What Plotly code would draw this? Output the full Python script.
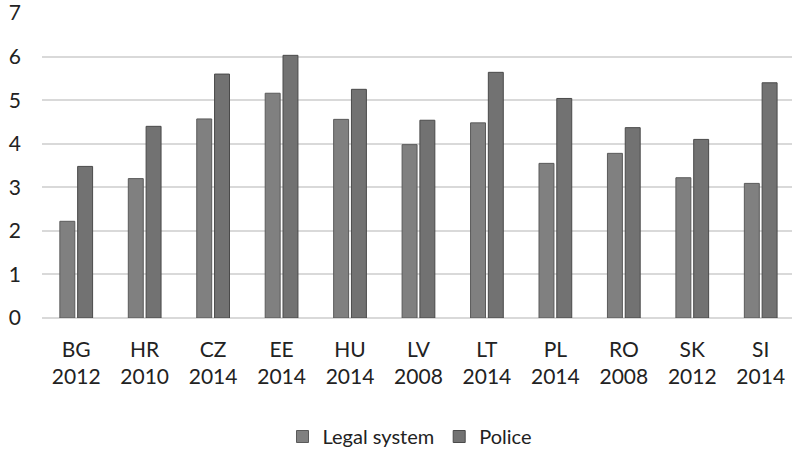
import plotly.graph_objects as go

countries = ["BG", "HR", "CZ", "EE", "HU", "LV", "LT", "PL", "RO", "SK", "SI"]
years = ["2012", "2010", "2014", "2014", "2014", "2008", "2014", "2014", "2008", "2012", "2014"]
legal_system = [2.22, 3.20, 4.57, 5.16, 4.56, 3.98, 4.48, 3.55, 3.78, 3.22, 3.09]
police = [3.48, 4.40, 5.60, 6.03, 5.25, 4.54, 5.64, 5.04, 4.37, 4.10, 5.40]
y_ticks = [0, 1, 2, 3, 4, 5, 6, 7]

labels = [f"{c}<br>{y}" for c, y in zip(countries, years)]
idx = list(range(len(countries)))

fig = go.Figure()
fig.add_trace(go.Bar(
    x=idx, y=legal_system, name="Legal system",
    marker=dict(color="#808080", line=dict(color="#5a5a5a", width=1)),
))
fig.add_trace(go.Bar(
    x=idx, y=police, name="Police",
    marker=dict(color="#727272", line=dict(color="#4a4a4a", width=1)),
))

font_family = "Lato, 'Open Sans', sans-serif"
fig.update_layout(
    width=792, height=450,
    paper_bgcolor="white", plot_bgcolor="white",
    margin=dict(l=42, r=0, t=13, b=132),
    barmode="group", bargap=0.48, bargroupgap=0.16,
    font=dict(family=font_family, size=20, color="#222222"),
    showlegend=True,
    legend=dict(orientation="h", x=0.49, xanchor="center",
                yref="container", y=0.03, yanchor="middle",
                font=dict(size=20, color="#222222"), itemwidth=30,
                traceorder="normal"),
    xaxis=dict(tickmode="array", tickvals=idx, ticktext=labels,
               range=[-0.5, 10.457], showgrid=False, zeroline=False,
               showline=False, ticks="", tickfont=dict(size=21),
               ticklabelstandoff=17, automargin=False),
    yaxis=dict(range=[0, 7.002], tickmode="array", tickvals=y_ticks,
               showgrid=True, gridcolor="#d9d9d9",
               gridwidth=1.5, zeroline=True, zerolinecolor="#d9d9d9", zerolinewidth=1.5,
               showline=False, ticks="", ticklabelstandoff=20,
               ticklabeloverflow="allow",
               tickfont=dict(size=21), automargin=False),
)

fig.write_html(
    "out.html",
    config={"displayModeBar": False},
    post_script="document.body.style.margin='0';document.body.style.overflow='hidden';",
)
